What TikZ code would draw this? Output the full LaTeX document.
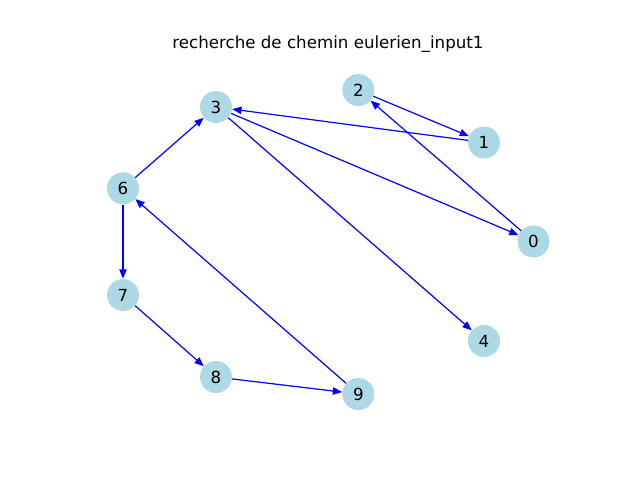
\documentclass[tikz,border=0pt]{standalone}
\usepackage{fontspec}
\setmainfont{DejaVu Sans}
\usetikzlibrary{arrows.meta}
\definecolor{lb}{HTML}{ADD8E6}
\begin{document}
\begin{tikzpicture}[x=0.75pt,y=-0.75pt,
  vtx/.style={circle,fill=lb,draw=none,minimum size=24pt,inner sep=0pt,font=\fontsize{12.5}{14}\selectfont},
  edge/.style={color=blue,line width=0.9pt,-{Triangle[length=7pt,width=5.5pt]}}]
\useasboundingbox (0,0) rectangle (640,480);
\node[font=\fontsize{12.5}{14}\selectfont] (title) at (328,44) {recherche de chemin eulerien\_input1};
\node[vtx] (n0) at (533.5,241.5) {0};
\node[vtx] (n1) at (484,142.5) {1};
\node[vtx] (n2) at (358.3,90) {2};
\node[vtx] (n3) at (216,107) {3};
\node[vtx] (n4) at (484,341) {4};
\node[vtx] (n6) at (123,188.3) {6};
\node[vtx] (n7) at (123,295) {7};
\node[vtx] (n8) at (216,377) {8};
\node[vtx] (n9) at (358.3,394) {9};
\draw[edge] (n2) -- (n1);
\draw[edge] (n1) -- (n3);
\draw[edge] (n0) -- (n2);
\draw[edge] (n3) -- (n0);
\draw[edge] (n3) -- (n4);
\draw[edge] (n6) -- (n3);
\draw[edge] (n6) -- (n7);
\draw[edge] (n7) -- (n8);
\draw[edge] (n8) -- (n9);
\draw[edge] (n9) -- (n6);
\end{tikzpicture}
\end{document}
